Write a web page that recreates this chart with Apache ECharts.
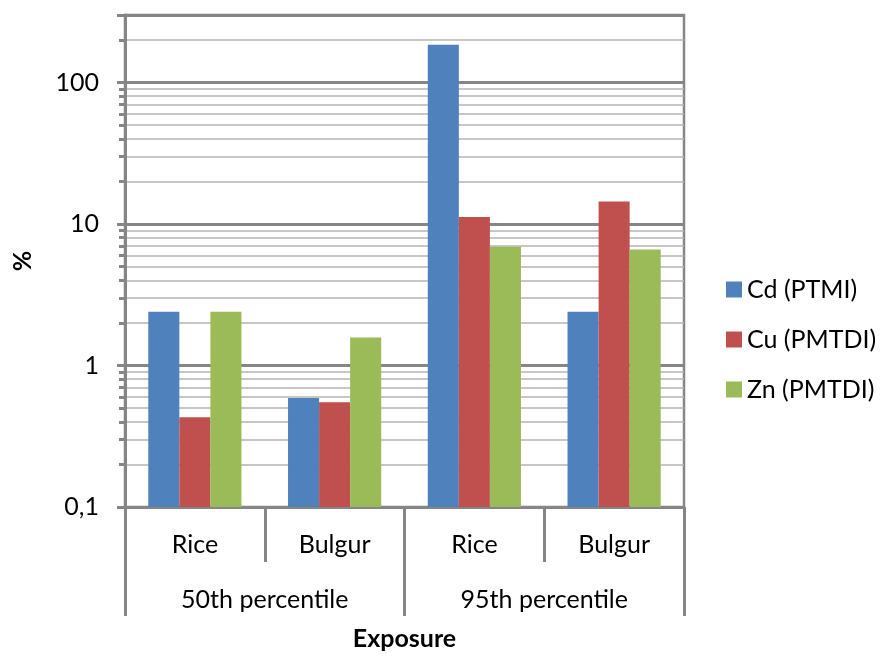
<!DOCTYPE html>
<html>
<head>
<meta charset="utf-8">
<script src="https://cdn.jsdelivr.net/npm/echarts@6/dist/echarts.min.js"></script>
<style>html,body{margin:0;padding:0;background:#fff}#c{width:880px;height:656px}</style>
</head>
<body>
<div id="c"></div>
<script>
var categories = ['Rice', 'Bulgur', 'Rice', 'Bulgur'];
var groups = ['50th percentile', '95th percentile'];
var seriesNames = ['Cd (PTMI)', 'Cu (PMTDI)', 'Zn (PMTDI)'];
var cdValues = [2.4, 0.59, 185, 2.4];
var cuValues = [0.43, 0.55, 11.2, 14.4];
var znValues = [2.4, 1.58, 6.9, 6.6];
var majorTicks = [0.1, 1, 10, 100, 300];
var tickLabels = [0.1, 1, 10, 100];
var minorTicks = [0.2, 0.3, 0.4, 0.5, 0.6, 0.7, 0.8, 0.9, 2, 3, 4, 5, 6, 7, 8, 9, 20, 30, 40, 50, 60, 70, 80, 90, 200];

var FONT = 'Lato';
var FS = 25;
var GRAY = '#868686';
var AXIS_MIN = 0.1;
var chart = echarts.init(document.getElementById('c'), null, {renderer: 'canvas'});
var colors = ['#4F81BD', '#C0504D', '#9BBB59'];
var vals = [cdValues, cuValues, znValues];
var nSeries = seriesNames.length;

function makeRender(si) {
  return function (params, api) {
    var ci = api.value(0);
    var v = api.value(1);
    var top = api.coord([ci, v]);
    var base = api.coord([ci, AXIS_MIN]);
    var cw = api.size([1, 0])[0];
    var groupW = cw * 2 / 3;
    var bw = groupW / nSeries;
    var x0 = top[0] - groupW / 2 + si * bw;
    return {
      type: 'rect',
      shape: {x: x0, y: top[1], width: bw, height: base[1] - top[1]},
      style: api.style({fill: colors[si], stroke: null})
    };
  };
}

chart.setOption({
  animation: false,
  textStyle: {fontFamily: FONT},
  grid: {left: 125, right: 196, top: 15, bottom: 145, show: true, borderColor: GRAY, borderWidth: 2.5, containLabel: false},
  legend: {
    orient: 'vertical', left: 726, top: 277, padding: 0, itemWidth: 16, itemHeight: 16, itemGap: 25,
    icon: 'rect', data: seriesNames,
    textStyle: {fontFamily: FONT, fontSize: FS, color: '#000'}
  },
  xAxis: [{
    type: 'category', data: categories, position: 'bottom',
    axisLine: {show: true, lineStyle: {color: GRAY, width: 3}},
    axisTick: {show: true, length: 55, interval: 0, lineStyle: {color: GRAY, width: 3}},
    axisLabel: {interval: 0, margin: 25, fontSize: FS, color: '#000', fontFamily: FONT},
    splitLine: {show: false}
  }, {
    type: 'category', data: groups, position: 'bottom',
    axisLine: {show: false},
    axisTick: {show: true, length: 109, interval: 0, lineStyle: {color: GRAY, width: 3}},
    axisLabel: {interval: 0, margin: 80, fontSize: FS, color: '#000', fontFamily: FONT},
    splitLine: {show: false},
    name: 'Exposure', nameLocation: 'middle', nameGap: 119,
    nameTextStyle: {fontSize: FS, fontWeight: 'bold', color: '#000', fontFamily: FONT}
  }],
  yAxis: [{
    type: 'log', logBase: 10, min: AXIS_MIN, max: 300, position: 'left',
    axisLine: {show: true, lineStyle: {color: GRAY, width: 3}},
    axisTick: {show: true, length: 8, customValues: majorTicks, lineStyle: {color: GRAY, width: 3}},
    axisLabel: {customValues: tickLabels, fontSize: FS, color: '#000', fontFamily: FONT, margin: 26,
      formatter: function (v) { return String(v).replace('.', ','); }},
    splitLine: {show: true, lineStyle: {color: GRAY, width: 3}},
    name: '%', nameLocation: 'middle', nameRotate: 90, nameGap: 90,
    nameTextStyle: {fontSize: FS, fontWeight: 'bold', color: '#000', fontFamily: FONT}
  }, {
    type: 'log', logBase: 10, min: AXIS_MIN, max: 300, position: 'left', offset: 0,
    axisLine: {show: false},
    axisTick: {show: true, length: 6, customValues: minorTicks, lineStyle: {color: GRAY, width: 3}},
    axisLabel: {show: false},
    splitLine: {show: true, lineStyle: {color: '#B4B4B4', width: 1.5}}
  }],
  series: seriesNames.map(function (n, i) {
    return {
      name: n, type: 'custom', xAxisIndex: 0, yAxisIndex: 0,
      data: vals[i].map(function (v, ci) { return [ci, v]; }),
      encode: {x: 0, y: 1},
      itemStyle: {color: colors[i]},
      renderItem: makeRender(i)
    };
  })
});
</script>
</body>
</html>
